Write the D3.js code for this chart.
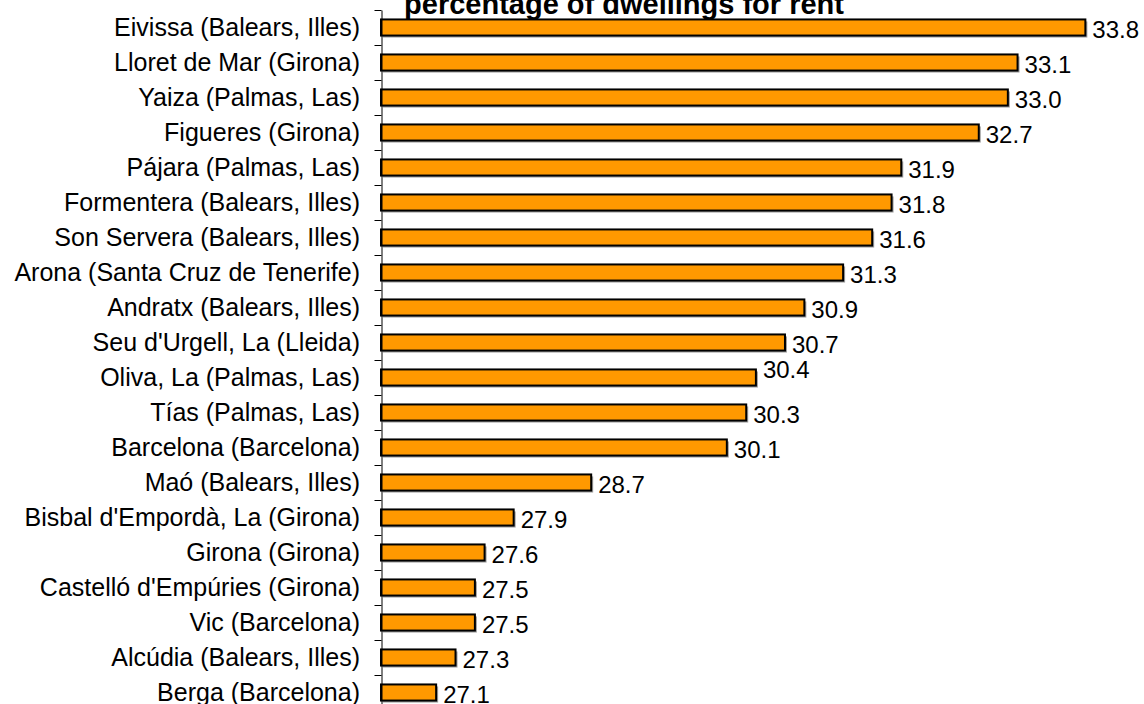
<!DOCTYPE html>
<html>
<head>
<meta charset="utf-8">
<script src="https://cdn.jsdelivr.net/npm/d3@7"></script>
<style>
  body { margin: 0; background: #fff; }
  svg { display: block; font-family: Arial, 'Liberation Sans', sans-serif; }
</style>
</head>
<body>
<div id="chart"></div>
<script>
const title = 'percentage of dwellings for rent'

const municipalities = [
  'Eivissa (Balears, Illes)',
  'Lloret de Mar (Girona)',
  'Yaiza (Palmas, Las)',
  'Figueres (Girona)',
  'Pájara (Palmas, Las)',
  'Formentera (Balears, Illes)',
  'Son Servera (Balears, Illes)',
  'Arona (Santa Cruz de Tenerife)',
  'Andratx (Balears, Illes)',
  "Seu d'Urgell, La (Lleida)",
  'Oliva, La (Palmas, Las)',
  'Tías (Palmas, Las)',
  'Barcelona (Barcelona)',
  'Maó (Balears, Illes)',
  "Bisbal d'Empordà, La (Girona)",
  'Girona (Girona)',
  "Castelló d'Empúries (Girona)",
  'Vic (Barcelona)',
  'Alcúdia (Balears, Illes)',
  'Berga (Barcelona)',
]

const rentShare = [
  33.8, 33.1, 33.0, 32.7, 31.9, 31.8, 31.6, 31.3, 30.9, 30.7, 30.4, 30.3, 30.1,
  28.7, 27.9, 27.6, 27.5, 27.5, 27.3, 27.1,
]

const data = municipalities.map((name, i) => ({ name, value: rentShare[i] }))

const render = () => {
  const width = 1144
  const height = 704
  const axisX = 381
  const top = 10
  const step = 35

  const svg = d3
    .select('#chart')
    .append('svg')
    .attr('width', width)
    .attr('height', height)

  // scales
  const yScale = d3
    .scaleBand()
    .domain(municipalities)
    .range([top, top + step * municipalities.length])
    .paddingInner(0.54)
    .paddingOuter(0.27)

  const xScale = d3.scaleLinear().domain([26.5, 34]).range([378, 378 + 7.5 * 96.9])

  // title (cut off at the top like the original)
  svg
    .append('text')
    .attr('x', 624)
    .attr('y', 14)
    .attr('text-anchor', 'middle')
    .style('font-size', '29px')
    .style('font-weight', 'bold')
    .text(title)

  // bars: shadow then bar
  svg
    .selectAll('rect.shadow')
    .data(data)
    .enter()
    .append('rect')
    .attr('class', 'shadow')
    .attr('x', axisX + 2)
    .attr('y', (d) => yScale(d.name) + 2)
    .attr('width', (d) => xScale(d.value) - axisX)
    .attr('height', yScale.bandwidth())
    .attr('fill', '#a0a0a0')

  svg
    .selectAll('rect.bar')
    .data(data)
    .enter()
    .append('rect')
    .attr('class', 'bar')
    .attr('x', axisX)
    .attr('y', (d) => yScale(d.name))
    .attr('width', (d) => xScale(d.value) - axisX)
    .attr('height', yScale.bandwidth())
    .attr('fill', '#ff9900')
    .attr('stroke', '#000')
    .attr('stroke-width', 2)

  // value labels (Oliva's sits a bit higher in the original)
  svg
    .selectAll('text.value')
    .data(data)
    .enter()
    .append('text')
    .attr('class', 'value')
    .attr('x', (d) => xScale(d.value) + 7)
    .attr(
      'y',
      (d) =>
        yScale(d.name) + yScale.bandwidth() / 2 + (d.name.startsWith('Oliva') ? 0.5 : 10.5)
    )
    .style('font-size', '24px')
    .text((d) => d.value.toFixed(1))

  // category labels
  const yAxis = d3.axisLeft(yScale).tickSize(0).tickPadding(21)
  const yg = svg.append('g').attr('transform', `translate(${axisX}, 0)`).call(yAxis)
  yg.select('.domain').remove()
  yg.selectAll('text')
    .style('font-size', '25px')
    .style('font-family', "Arial, 'Liberation Sans', sans-serif")
    .attr('dy', '0.35em')
    .attr('fill', '#000')

  // boundary ticks and axis line
  const edgeScale = d3
    .scaleLinear()
    .domain([0, municipalities.length])
    .range([top, top + step * municipalities.length])

  const edgeAxis = d3
    .axisLeft(edgeScale)
    .tickValues(d3.range(municipalities.length + 1))
    .tickSize(7)
    .tickSizeOuter(0)
    .tickFormat('')

  const eg = svg.append('g').attr('transform', `translate(${axisX + 0.5}, 0)`).call(edgeAxis)
  eg.selectAll('line, path').attr('stroke', '#000')
}

render()
</script>
</body>
</html>
